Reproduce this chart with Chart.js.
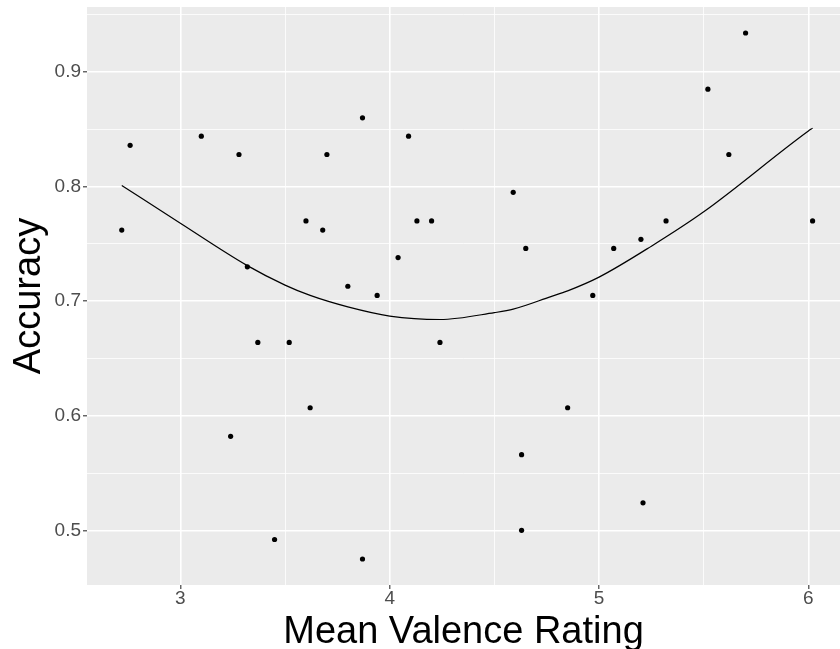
<!DOCTYPE html>
<html>
<head>
<meta charset="utf-8">
<script src="https://cdn.jsdelivr.net/npm/chart.js@4/dist/chart.umd.min.js"></script>
<style>
  html, body { margin: 0; padding: 0; background: #ffffff; }
  #chart { display: block; }
</style>
</head>
<body>
<canvas id="chart" width="840" height="649"></canvas>
<script>
// Observed data (mean valence rating vs accuracy)
const valence = [2.72, 2.76, 3.10, 3.24, 3.28, 3.32, 3.37, 3.45, 3.52, 3.60, 3.62, 3.68,
  3.70, 3.80, 3.87, 3.87, 3.94, 4.04, 4.09, 4.13, 4.20, 4.24, 4.59, 4.63,
  4.63, 4.65, 4.85, 4.97, 5.07, 5.20, 5.21, 5.32, 5.52, 5.62, 5.70, 6.02];
const accuracy = [0.762, 0.836, 0.844, 0.582, 0.828, 0.730, 0.664, 0.492, 0.664, 0.770, 0.607, 0.762,
  0.828, 0.713, 0.860, 0.475, 0.705, 0.738, 0.844, 0.770, 0.770, 0.664, 0.795, 0.566,
  0.500, 0.746, 0.607, 0.705, 0.746, 0.754, 0.524, 0.770, 0.885, 0.828, 0.934, 0.770];

// Smoothed fit line
const fitX = [2.72, 3.00, 3.32, 3.50, 3.62, 3.80, 4.00, 4.24, 4.50, 4.59, 4.77, 4.85, 5.00, 5.25, 5.50, 6.00, 6.02];
const fitY = [0.801, 0.768, 0.731, 0.714, 0.705, 0.695, 0.687, 0.684, 0.690, 0.693, 0.704, 0.709, 0.721, 0.748, 0.778, 0.8485, 0.851];

// Axis ticks
const xMajorTicks = [3, 4, 5, 6];
const xMinorTicks = [3.5, 4.5, 5.5];
const yMajorTicks = [0.5, 0.6, 0.7, 0.8, 0.9];
const yMinorTicks = [0.55, 0.65, 0.75, 0.85, 0.95];

const FONT = "'Liberation Sans', Arial, Helvetica, sans-serif";

function isMajor(list, v) {
  return list.some(t => Math.abs(t - v) < 1e-6);
}

// gray ggplot-style panel behind the grid
const panelBg = {
  id: 'panelBg',
  beforeDraw(chart) {
    const { ctx, chartArea: a } = chart;
    ctx.save();
    ctx.fillStyle = '#EBEBEB';
    ctx.fillRect(a.left, a.top, a.right - a.left, a.bottom - a.top);
    ctx.restore();
  }
};

function gridFor(majors) {
  return {
    color: '#FFFFFF',
    lineWidth: c => (c.tick && isMajor(majors, c.tick.value)) ? 1.6 : 0.8,
    tickColor: c => (c.tick && isMajor(majors, c.tick.value)) ? '#333333' : 'rgba(0,0,0,0)',
    tickLength: 4,
    tickWidth: 1.1,
    drawTicks: true
  };
}

// fixed axis box sizes, no extra label padding at the ends
function fixSize(s, size) {
  if (s.isHorizontal()) s.height = size; else s.width = size;
  s.paddingTop = 0;
  s.paddingBottom = 0;
  s.paddingLeft = 0;
  s.paddingRight = 0;
}

const ctx = document.getElementById('chart').getContext('2d');
new Chart(ctx, {
  type: 'scatter',
  data: {
    datasets: [
      {
        label: 'fit',
        data: fitX.map((x, i) => ({ x, y: fitY[i] })),
        showLine: true,
        borderColor: '#000000',
        borderWidth: 1.2,
        pointRadius: 0,
        cubicInterpolationMode: 'monotone',
        fill: false
      },
      {
        label: 'points',
        data: valence.map((x, i) => ({ x, y: accuracy[i] })),
        backgroundColor: '#000000',
        borderColor: '#000000',
        borderWidth: 0,
        pointRadius: 2.6
      }
    ]
  },
  options: {
    responsive: false,
    animation: false,
    layout: { autoPadding: false, padding: { top: 7, right: 0, left: 0, bottom: 0 } },
    plugins: { legend: { display: false }, tooltip: { enabled: false } },
    scales: {
      x: {
        type: 'linear',
        min: 2.554,
        max: 6.151,
        border: { display: false },
        grid: gridFor(xMajorTicks),
        afterBuildTicks: s => {
          s.ticks = xMajorTicks.concat(xMinorTicks).sort((a, b) => a - b).map(v => ({ value: v }));
        },
        afterFit: s => fixSize(s, 64),
        ticks: {
          autoSkip: false,
          maxRotation: 0,
          padding: -2,
          color: '#4D4D4D',
          font: { family: FONT, size: 19 },
          callback: v => isMajor(xMajorTicks, v) ? String(v) : ''
        },
        title: {
          display: true,
          text: 'Mean Valence Rating',
          color: '#000000',
          font: { family: FONT, size: 38, lineHeight: 0.8 },
          padding: { top: 0, bottom: 1 }
        }
      },
      y: {
        type: 'linear',
        min: 0.4523,
        max: 0.9567,
        border: { display: false },
        grid: gridFor(yMajorTicks),
        afterBuildTicks: s => {
          s.ticks = yMajorTicks.concat(yMinorTicks).sort((a, b) => a - b).map(v => ({ value: v }));
        },
        afterFit: s => fixSize(s, 87),
        ticks: {
          autoSkip: false,
          padding: 2,
          color: '#4D4D4D',
          font: { family: FONT, size: 19 },
          callback: v => isMajor(yMajorTicks, v) ? v.toFixed(1) : ''
        },
        title: {
          display: true,
          text: 'Accuracy',
          color: '#000000',
          font: { family: FONT, size: 38, lineHeight: 1.2 },
          padding: { top: 7, bottom: 0 }
        }
      }
    }
  },
  plugins: [panelBg]
});
</script>
</body>
</html>
